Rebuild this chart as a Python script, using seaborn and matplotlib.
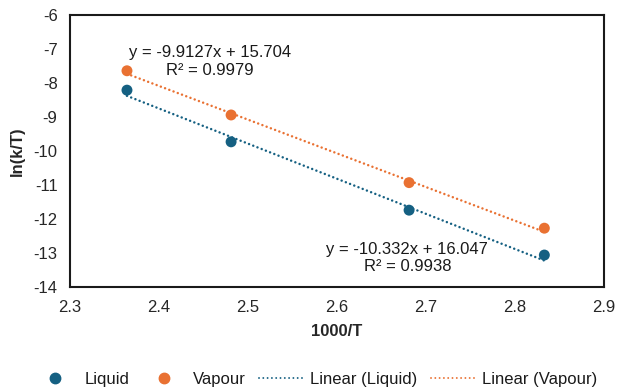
import numpy as np
import pandas as pd
import matplotlib
matplotlib.use("Agg")
import matplotlib.pyplot as plt
import seaborn as sns
from matplotlib.lines import Line2D

# Inverse temperature (1000/T) and ln(k/T) for each phase
inv_temp = [2.364, 2.481, 2.681, 2.833]
ln_liquid = [-8.21, -9.73, -11.74, -13.06]
ln_vapour = [-7.64, -8.94, -10.93, -12.27]

# Linear trendline coefficients (slope, intercept, R²)
fit_liquid = (-10.332, 16.047, 0.9938)
fit_vapour = (-9.9127, 15.704, 0.9979)

x_ticks = [2.3, 2.4, 2.5, 2.6, 2.7, 2.8, 2.9]
y_ticks = [-14, -13, -12, -11, -10, -9, -8, -7, -6]

c_liquid = "#156082"
c_vapour = "#E97132"
dot_style = (0, (0.01, 1.8))

sns.set_theme(style="white")
plt.rcParams["font.family"] = ["Liberation Sans", "DejaVu Sans"]

points = pd.DataFrame({
    "x": inv_temp * 2,
    "y": ln_liquid + ln_vapour,
    "phase": ["Liquid"] * 4 + ["Vapour"] * 4,
})

xs = np.array([inv_temp[0], inv_temp[-1]])
trend = pd.DataFrame({
    "x": np.concatenate([xs, xs]),
    "y": np.concatenate([fit_liquid[0] * xs + fit_liquid[1],
                         fit_vapour[0] * xs + fit_vapour[1]]),
    "fit": ["Linear (Liquid)"] * 2 + ["Linear (Vapour)"] * 2,
})

fig = plt.figure(figsize=(6.18, 3.9), dpi=100)
ax = fig.add_axes([0.1133, 0.2641, 0.864, 0.6974])

sns.lineplot(data=trend, x="x", y="y", hue="fit",
             palette={"Linear (Liquid)": c_liquid, "Linear (Vapour)": c_vapour},
             linestyle=dot_style, linewidth=1.8, dash_capstyle="round",
             legend=False, ax=ax, zorder=2)
sns.scatterplot(data=points, x="x", y="y", hue="phase",
                palette={"Liquid": c_liquid, "Vapour": c_vapour},
                s=62, edgecolor="none", legend=False, ax=ax, zorder=3)

ax.set_xlim(2.3, 2.9)
ax.set_ylim(-14, -6)
ax.set_xticks(x_ticks)
ax.set_yticks(y_ticks)
ax.set_xticklabels([f"{v:.1f}" for v in x_ticks])
ax.set_yticklabels([str(v) for v in y_ticks])
ax.tick_params(axis="both", length=0, labelsize=12, colors="#262626")
ax.tick_params(axis="x", pad=9)
ax.tick_params(axis="y", pad=9)
ax.set_xlabel("1000/T", fontsize=12, fontweight="bold", color="#262626", labelpad=7)
ax.set_ylabel("ln(k/T)", fontsize=12, fontweight="bold", color="#262626", labelpad=6)
for sp in ax.spines.values():
    sp.set_visible(True)
    sp.set_color("#1a1a1a")
    sp.set_linewidth(1.5)

ax.text(2.457, -7.09, f"y = {fit_vapour[0]}x + {fit_vapour[1]}",
        ha="center", va="center", fontsize=12, color="#1a1a1a")
ax.text(2.457, -7.62, f"R² = {fit_vapour[2]}",
        ha="center", va="center", fontsize=12, color="#1a1a1a")
ax.text(2.679, -12.91, f"y = {fit_liquid[0]}x + {fit_liquid[1]}",
        ha="center", va="center", fontsize=12, color="#1a1a1a")
ax.text(2.679, -13.41, f"R² = {fit_liquid[2]}",
        ha="center", va="center", fontsize=12, color="#1a1a1a")

handles = [
    Line2D([], [], marker="o", linestyle="none", color=c_liquid, markersize=7.5),
    Line2D([], [], marker="o", linestyle="none", color=c_vapour, markersize=7.5),
    Line2D([], [], linestyle=(0, (0.01, 2.2)), linewidth=1.4, dash_capstyle="round",
           color=c_liquid),
    Line2D([], [], linestyle=(0, (0.01, 2.2)), linewidth=1.4, dash_capstyle="round",
           color=c_vapour),
]
labels = ["Liquid", "Vapour", "Linear (Liquid)", "Linear (Vapour)"]
fig.legend(handles, labels, loc="center", bbox_to_anchor=(0.51, 0.027), ncol=4,
           frameon=False, fontsize=12, handlelength=2.6, columnspacing=0.8,
           handletextpad=0.45, labelcolor="#1a1a1a")

fig.savefig("out.png", dpi=100, facecolor="white")
